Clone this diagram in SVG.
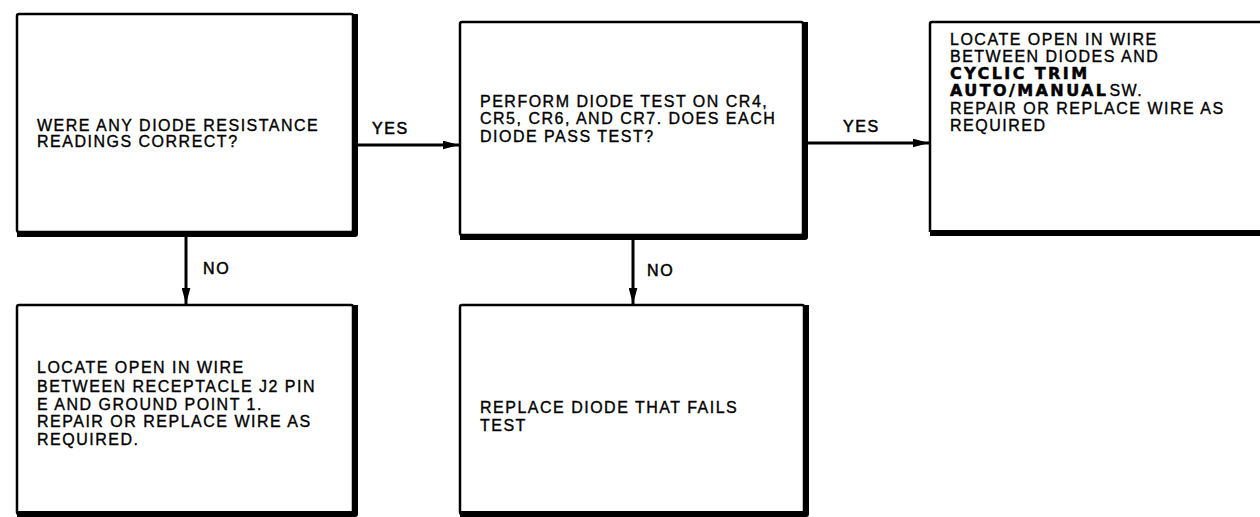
<svg xmlns="http://www.w3.org/2000/svg" width="1260" height="517" viewBox="0 0 1260 517">
<style>
.bx{fill:#fff;stroke:#000;stroke-width:2.5}
.sh{fill:none;stroke:#000;stroke-width:6;stroke-linejoin:round}
.t{font-family:"Liberation Sans",Arial,sans-serif;font-size:16px;fill:#000;stroke:#000;stroke-width:0.35;letter-spacing:1.5px}
.hv{font-family:"DejaVu Sans",sans-serif;font-size:16px;font-weight:bold;fill:#000;stroke:#000;stroke-width:0.5;letter-spacing:2.4px}
.lb{font-family:"Liberation Sans",Arial,sans-serif;font-size:16px;fill:#000;stroke:#000;stroke-width:0.5;letter-spacing:1.6px}
.c{fill:none;stroke:#000;stroke-width:3}
</style>
<defs>
<marker id="ah" viewBox="0 0 10 10" refX="10" refY="5" markerWidth="5.5" markerHeight="3" preserveAspectRatio="none" markerUnits="strokeWidth" orient="auto">
<path d="M0,0L10,5L0,10z" fill="#000"/>
</marker>
</defs>
<g id="connectors">
<line class="c" x1="358" y1="145" x2="459" y2="145" marker-end="url(#ah)"/>
<text class="lb" x="372" y="134">YES</text>
<line class="c" x1="808" y1="143" x2="929" y2="143" marker-end="url(#ah)"/>
<text class="lb" x="843" y="132">YES</text>
<line class="c" x1="186" y1="237" x2="186" y2="304" marker-end="url(#ah)"/>
<text class="lb" x="203" y="274">NO</text>
<line class="c" x1="633" y1="240" x2="633" y2="304" marker-end="url(#ah)"/>
<text class="lb" x="647" y="276">NO</text>
</g>
<g id="n1">
<rect class="bx" x="17" y="14" width="336" height="218" rx="2"/>
<polyline class="sh" points="355,14 355,234 17,234"/>
<text class="t" x="37" y="131">WERE ANY DIODE RESISTANCE</text>
<text class="t" x="37" y="147">READINGS CORRECT?</text>
</g>
<g id="n2">
<rect class="bx" x="460" y="22" width="343" height="213" rx="2"/>
<polyline class="sh" points="805,22 805,237 460,237"/>
<text class="t" x="480" y="107">PERFORM DIODE TEST ON CR4,</text>
<text class="t" x="480" y="124">CR5, CR6, AND CR7. DOES EACH</text>
<text class="t" x="480" y="142">DIODE PASS TEST?</text>
</g>
<g id="n3">
<path class="bx" d="M1262,22H932Q930,22 930,24V232"/>
<polyline class="sh" points="930,233 1262,233"/>
<text class="t" x="950" y="45">LOCATE OPEN IN WIRE</text>
<text class="t" x="950" y="62">BETWEEN DIODES AND</text>
<text class="hv" x="950" y="79">CYCLIC TRIM</text>
<text x="950" y="96"><tspan class="hv">AUTO/MANUAL</tspan><tspan class="t" dx="1">SW.</tspan></text>
<text class="t" x="950" y="114">REPAIR OR REPLACE WIRE AS</text>
<text class="t" x="950" y="131">REQUIRED</text>
</g>
<g id="n4">
<rect class="bx" x="17" y="305" width="336" height="209" rx="2"/>
<polyline class="sh" points="355,305 355,514 17,514"/>
<text class="t" x="37" y="373">LOCATE OPEN IN WIRE</text>
<text class="t" x="37" y="392">BETWEEN RECEPTACLE J2 PIN</text>
<text class="t" x="37" y="410">E AND GROUND POINT 1.</text>
<text class="t" x="37" y="427">REPAIR OR REPLACE WIRE AS</text>
<text class="t" x="37" y="445">REQUIRED.</text>
</g>
<g id="n5">
<rect class="bx" x="460" y="305" width="344" height="209" rx="2"/>
<polyline class="sh" points="806,305 806,514 460,514"/>
<text class="t" x="480" y="413">REPLACE DIODE THAT FAILS</text>
<text class="t" x="480" y="431">TEST</text>
</g>
</svg>
